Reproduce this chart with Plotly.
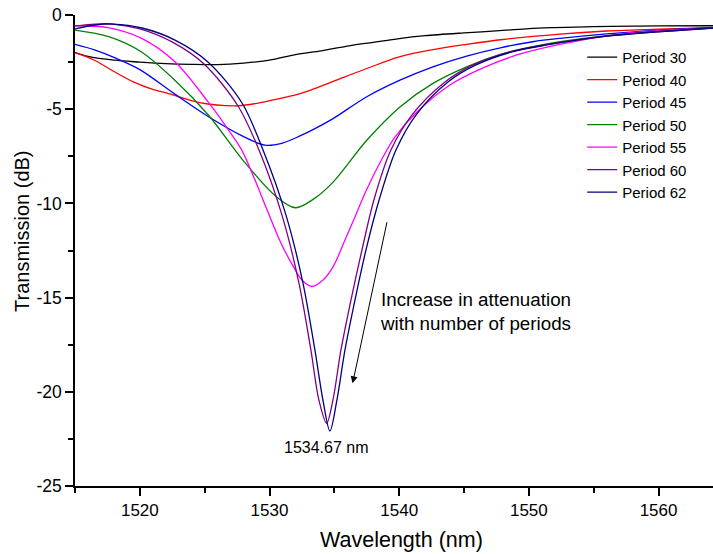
import plotly.graph_objects as go

# ---- data ----
names = ["Period 30", "Period 40", "Period 45", "Period 50", "Period 55", "Period 60", "Period 62"]
colors = ["#000000", "#FF0000", "#0000FF", "#008000", "#FF00FF", "#800080", "#000080"]

p30_x = [1515, 1516, 1518, 1520, 1522, 1524, 1526, 1528, 1530, 1532, 1534, 1536, 1538, 1540, 1542, 1545, 1548, 1550, 1552, 1555, 1558, 1560, 1564.2]
p30_y = [-2.0, -2.2, -2.4, -2.5, -2.58, -2.62, -2.63, -2.55, -2.4, -2.1, -1.9, -1.65, -1.45, -1.25, -1.1, -0.95, -0.82, -0.72, -0.67, -0.62, -0.59, -0.58, -0.57]

p40_x = [1515, 1516.5, 1518, 1519.5, 1521, 1522.1, 1524.6, 1527.3, 1528.5, 1530, 1532.35, 1533.5, 1535, 1537.5, 1540, 1542.5, 1545.2, 1548, 1552.4, 1556, 1560, 1564.2]
p40_y = [-2.0, -2.4, -3.0, -3.55, -3.95, -4.15, -4.65, -4.82, -4.75, -4.55, -4.17, -3.9, -3.5, -2.84, -2.22, -1.85, -1.56, -1.3, -1.01, -0.85, -0.75, -0.67]

p45_x = [1515, 1516.5, 1518, 1520, 1522.7, 1525.3, 1527.85, 1529.65, 1531, 1532.35, 1533.5, 1534.9, 1537.5, 1540.06, 1542.6, 1545.2, 1547.8, 1550.3, 1552.4, 1556, 1560, 1564.2]
p45_y = [-1.56, -1.85, -2.25, -2.9, -4.2, -5.4, -6.4, -6.91, -6.8, -6.42, -6.03, -5.5, -4.34, -3.46, -2.75, -2.18, -1.74, -1.42, -1.24, -1.0, -0.8, -0.67]

p50_x = [1515, 1517.6, 1520.1, 1522.7, 1525.3, 1527.85, 1530.4, 1532.0, 1533.5, 1534.9, 1537.5, 1540.06, 1542.6, 1545.2, 1547.8, 1550.3, 1552.4, 1556, 1560, 1564.2]
p50_y = [-0.8, -1.15, -1.95, -3.46, -5.32, -7.62, -9.57, -10.23, -9.72, -8.87, -6.65, -4.88, -3.63, -2.75, -2.09, -1.68, -1.42, -1.1, -0.85, -0.68]

p55_x = [1515, 1517.54, 1520.14, 1522.71, 1525.25, 1526.57, 1527.85, 1528.88, 1529.88, 1530.88, 1531.81, 1532.5, 1533.25, 1534.04, 1534.89, 1535.82, 1536.59, 1537.44, 1538.75, 1539.67, 1541.37, 1543.91, 1546.46, 1549.08, 1552.39, 1557.02, 1564.2]
p55_y = [-0.57, -0.67, -1.24, -2.48, -4.6, -5.84, -7.16, -8.76, -10.46, -12.1, -13.32, -14.07, -14.41, -14.12, -13.38, -11.94, -10.72, -9.34, -7.54, -6.48, -5.15, -3.72, -2.81, -2.12, -1.56, -1.01, -0.69]

p60_x = [1515, 1516.54, 1517.93, 1520.01, 1522.48, 1524.95, 1527.57, 1529.19, 1530.96, 1532.27, 1533.19, 1533.81, 1534.41, 1534.89, 1535.51, 1536.28, 1537.13, 1538.05, 1539.36, 1540.98, 1543.53, 1545.69, 1548.54, 1551.24, 1556, 1564.2]
p60_y = [-0.58, -0.48, -0.48, -0.74, -1.43, -2.6, -4.83, -7.17, -10.62, -14.23, -17.78, -20.44, -21.67, -20.44, -17.78, -15.13, -12.47, -9.82, -7.17, -5.31, -3.56, -2.65, -1.96, -1.59, -1.12, -0.69]

p62_x = [1515, 1516.54, 1517.93, 1520.17, 1522.71, 1525.25, 1527.88, 1529.5, 1531.27, 1532.58, 1533.5, 1534.12, 1534.66, 1535.2, 1535.82, 1536.59, 1537.44, 1538.45, 1539.75, 1541.29, 1543.76, 1545.92, 1548.7, 1551.39, 1556, 1564.2]
p62_y = [-0.74, -0.53, -0.48, -0.69, -1.33, -2.49, -4.67, -7.17, -10.62, -14.23, -17.78, -20.44, -22.08, -20.43, -17.78, -15.13, -12.47, -9.82, -7.17, -5.31, -3.56, -2.65, -1.96, -1.59, -1.12, -0.69]

xs = [p30_x, p40_x, p45_x, p50_x, p55_x, p60_x, p62_x]
ys = [p30_y, p40_y, p45_y, p50_y, p55_y, p60_y, p62_y]

x_ticks = [1520, 1530, 1540, 1550, 1560]
y_ticks = [-25, -20, -15, -10, -5, 0]
y_tick_text = ["-25", "-20", "-15", "-10", "-5", "0"]

FONT = "Liberation Sans, Arial, sans-serif"

fig = go.Figure()
for n, c, x, y in zip(names, colors, xs, ys):
    fig.add_trace(go.Scatter(x=x, y=y, mode="lines", name=n,
                             line=dict(color=c, width=1.3, shape="spline", smoothing=0.9)))

fig.update_layout(
    width=713, height=554,
    margin=dict(l=75, r=0, t=15, b=68),
    paper_bgcolor="white", plot_bgcolor="white",
    font=dict(family=FONT, size=17, color="black"),
    showlegend=True,
    legend=dict(x=0.795, y=0.945, xanchor="left", yanchor="top",
                bgcolor="rgba(0,0,0,0)", font=dict(size=15, family=FONT),
                tracegroupgap=0, itemwidth=30),
)

fig.update_xaxes(
    range=[1515, 1564.2], showgrid=False, zeroline=False,
    showline=True, linecolor="black", linewidth=1.6,
    ticks="outside", ticklen=8, tickwidth=1.5, tickcolor="black",
    tickvals=x_ticks, tickfont=dict(size=17, family=FONT),
    minor=dict(ticks="outside", ticklen=5, tickwidth=1.5, tickcolor="black", dtick=5, tick0=1515, showgrid=False),
)
fig.update_yaxes(
    range=[-25, 0], showgrid=False, zeroline=False,
    showline=True, linecolor="black", linewidth=1.6,
    ticks="outside", ticklen=8, tickwidth=1.5, tickcolor="black",
    tickvals=y_ticks, ticktext=y_tick_text, tickfont=dict(size=17.5, family=FONT),
    minor=dict(ticks="outside", ticklen=5, tickwidth=1.5, tickcolor="black", dtick=2.5, tick0=0, showgrid=False),
)

# axis titles (placed as in the reference)
fig.add_annotation(x=(401 - 75) / 638, y=-(540 - 486) / 471, xref="paper", yref="paper",
                   text="Wavelength (nm)", showarrow=False, xanchor="center", yanchor="middle",
                   font=dict(size=21.5, family=FONT, color="black"))
fig.add_annotation(x=(22 - 75) / 638, y=1 - (231 - 15) / 471, xref="paper", yref="paper",
                   text="Transmission (dB)", showarrow=False, textangle=-90,
                   xanchor="center", yanchor="middle",
                   font=dict(size=20, family=FONT, color="black"))

# arrow
fig.add_annotation(x=1536.41, y=-19.55, ax=1539.08, ay=-10.92, xref="x", yref="y",
                   axref="x", ayref="y", text="", showarrow=True,
                   arrowhead=2, arrowsize=1.4, arrowwidth=1, arrowcolor="black")
fig.add_annotation(x=1538.36, y=-15.74, xref="x", yref="y",
                   text="Increase in attenuation<br>with number of periods",
                   showarrow=False, xanchor="left", yanchor="middle", align="left",
                   font=dict(size=18.8, family=FONT, color="black"))
fig.add_annotation(x=1534.39, y=-22.98, xref="x", yref="y",
                   text="1534.67 nm", showarrow=False, xanchor="center", yanchor="middle",
                   font=dict(size=16, family=FONT, color="black"))

fig.write_html("out.html")
